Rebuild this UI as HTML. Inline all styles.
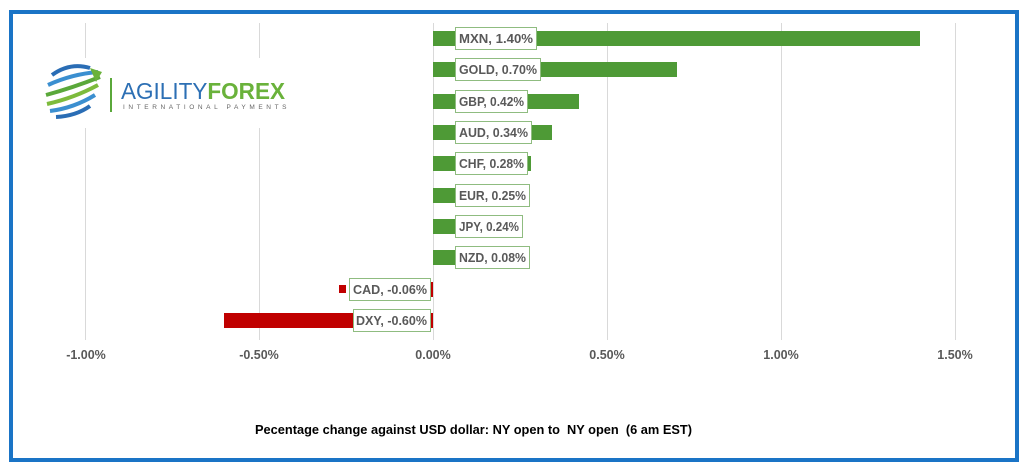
<!DOCTYPE html>
<html><head><meta charset="utf-8"><style>
body{margin:0;background:#fff;}
svg{display:block;font-family:"Liberation Sans",Arial,sans-serif;}
</style></head><body>
<svg width="1024" height="466" viewBox="0 0 1024 466">
<rect x="0" y="0" width="1024" height="466" fill="#fff"/>
<rect x="11" y="12" width="1006" height="448" fill="none" stroke="#1a74c6" stroke-width="4"/>
<g stroke="#d9d9d9" stroke-width="1">
<line x1="85.5" y1="23" x2="85.5" y2="340"/>
<line x1="259.5" y1="23" x2="259.5" y2="340"/>
<line x1="433.5" y1="23" x2="433.5" y2="340"/>
<line x1="607.5" y1="23" x2="607.5" y2="340"/>
<line x1="781.5" y1="23" x2="781.5" y2="340"/>
<line x1="955.5" y1="23" x2="955.5" y2="340"/>
</g>
<!-- logo -->
<rect x="40" y="58" width="250" height="70" fill="#fff"/>
<g fill="none" stroke-width="4">
<path d="M52 75 Q70 62 90 68" stroke="#2a6db5"/>
<path d="M48 85 Q72 74 98 72" stroke="#3b8fd0"/>
<path d="M46 95 Q72 88 100 77" stroke="#5aa83a"/>
<path d="M47 104 Q74 98 98 85" stroke="#7dbb3c"/>
<path d="M50 111 Q74 108 95 95" stroke="#3b8fd0"/>
<path d="M56 117 Q76 116 90 106" stroke="#2a6db5"/>
</g>
<polygon points="90,68 102,72 96,82" fill="#6ab23b"/>
<rect x="110" y="78" width="2" height="34" fill="#5aa83a"/>
<text x="121" y="99" font-size="23" fill="#2c6fb4" textLength="164" lengthAdjust="spacingAndGlyphs">AGILITY<tspan fill="#6ab23b" font-weight="bold">FOREX</tspan></text>
<text x="123" y="109" font-size="6.5" fill="#666" letter-spacing="3.6">INTERNATIONAL PAYMENTS</text>
<!-- bars -->
<g fill="#4e9a36">
<rect x="433" y="31" width="487" height="15"/>
<rect x="433" y="62" width="244" height="15"/>
<rect x="433" y="94" width="146" height="15"/>
<rect x="433" y="125" width="119" height="15"/>
<rect x="433" y="156" width="98" height="15"/>
<rect x="433" y="188" width="87" height="15"/>
<rect x="433" y="219" width="84" height="15"/>
<rect x="433" y="250" width="28" height="15"/>
</g>
<g fill="#c00000">
<rect x="339" y="285" width="7" height="8"/>
<rect x="412" y="282" width="21" height="15"/>
<rect x="224" y="313" width="209" height="15"/>
</g>
<g fill="#fff" stroke="#8fbc80" stroke-width="1">
<rect x="455.5" y="27.5" width="81" height="22"/>
<rect x="455.5" y="58.5" width="85" height="22"/>
<rect x="455.5" y="90.5" width="72" height="22"/>
<rect x="455.5" y="121.5" width="76" height="22"/>
<rect x="455.5" y="152.5" width="72" height="22"/>
<rect x="455.5" y="184.5" width="74" height="22"/>
<rect x="455.5" y="215.5" width="67" height="22"/>
<rect x="455.5" y="246.5" width="74" height="22"/>
<rect x="349.5" y="278.5" width="81" height="22"/>
<rect x="353.5" y="309.5" width="77" height="22"/>
</g>
<g font-size="12.5" font-weight="bold" fill="#595959" lengthAdjust="spacingAndGlyphs">
<text x="459" y="43" textLength="74" lengthAdjust="spacingAndGlyphs">MXN, 1.40%</text>
<text x="459" y="74" textLength="78" lengthAdjust="spacingAndGlyphs">GOLD, 0.70%</text>
<text x="459" y="106" textLength="65" lengthAdjust="spacingAndGlyphs">GBP, 0.42%</text>
<text x="459" y="137" textLength="69" lengthAdjust="spacingAndGlyphs">AUD, 0.34%</text>
<text x="459" y="168" textLength="65" lengthAdjust="spacingAndGlyphs">CHF, 0.28%</text>
<text x="459" y="200" textLength="67" lengthAdjust="spacingAndGlyphs">EUR, 0.25%</text>
<text x="459" y="231" textLength="60" lengthAdjust="spacingAndGlyphs">JPY, 0.24%</text>
<text x="459" y="262" textLength="67" lengthAdjust="spacingAndGlyphs">NZD, 0.08%</text>
<text x="353" y="294" textLength="74" lengthAdjust="spacingAndGlyphs">CAD, -0.06%</text>
<text x="356" y="325" textLength="71" lengthAdjust="spacingAndGlyphs">DXY, -0.60%</text>
</g>
<g font-size="12.5" font-weight="bold" fill="#595959" text-anchor="middle">
<text x="86" y="359">-1.00%</text>
<text x="259" y="359">-0.50%</text>
<text x="433" y="359">0.00%</text>
<text x="607" y="359">0.50%</text>
<text x="781" y="359">1.00%</text>
<text x="955" y="359">1.50%</text>
</g>
<text x="255" y="434" font-size="12.5" font-weight="bold" fill="#000" textLength="437" lengthAdjust="spacingAndGlyphs" xml:space="preserve">Pecentage change against USD dollar: NY open to  NY open  (6 am EST)</text>
</svg>
</body></html>
